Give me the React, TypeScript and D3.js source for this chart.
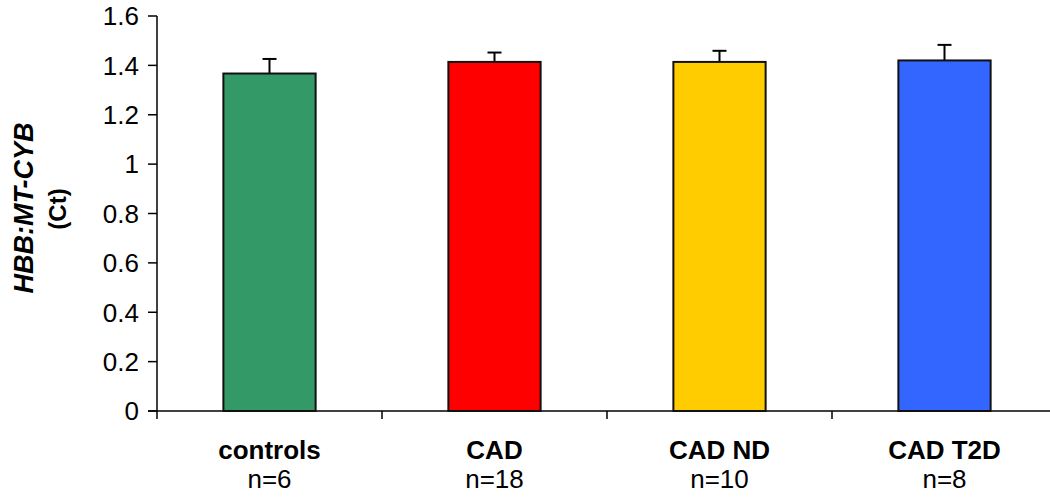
import React from "react";
import * as d3 from "d3";

const categories = ["controls", "CAD", "CAD ND", "CAD T2D"];
const nLabels = ["n=6", "n=18", "n=10", "n=8"];
const means = [1.367, 1.414, 1.414, 1.42];
const errors = [0.059, 0.038, 0.045, 0.063];
const colors = ["#339966", "#FF0000", "#FFCC00", "#3366FF"];
const yTicks = [0, 0.2, 0.4, 0.6, 0.8, 1, 1.2, 1.4, 1.6];

const W = 1050;
const H = 497;
const FONT = "Arial, 'Liberation Sans', sans-serif";

export default function App() {
  const x0 = 157;
  const step = 225;
  const x = d3
    .scaleBand<string>()
    .domain(categories)
    .range([x0, x0 + step * categories.length])
    .padding(0);
  const y = d3.scaleLinear().domain([0, 1.6]).range([411, 16]);
  const bw = x.bandwidth() * 0.41;
  const y0 = y(0);

  return (
    <svg
      width={W}
      height={H}
      style={{ position: "absolute", left: 0, top: 0, background: "#fff" }}
      fontFamily={FONT}
    >
      {/* y axis */}
      <line x1={x0} x2={x0} y1={y(1.6)} y2={y0 + 8} stroke="#000" strokeWidth={1.5} />
      {yTicks.map((t) => (
        <g key={t}>
          <line x1={x0 - 9} x2={x0} y1={y(t)} y2={y(t)} stroke="#000" strokeWidth={1.5} />
          <text
            x={x0 - 18}
            y={y(t)}
            dy="0.36em"
            textAnchor="end"
            fontSize={26}
            fill="#000"
          >
            {d3.format("~g")(t)}
          </text>
        </g>
      ))}
      {/* x axis */}
      <line x1={x0 - 9} x2={W} y1={y0} y2={y0} stroke="#000" strokeWidth={1.5} />
      {categories.slice(1).map((c) => (
        <line
          key={c}
          x1={x(c)!}
          x2={x(c)!}
          y1={y0}
          y2={y0 + 8}
          stroke="#000"
          strokeWidth={1.5}
        />
      ))}
      {/* bars */}
      {categories.map((c, i) => {
        const cx = x(c)! + x.bandwidth() / 2;
        const top = y(means[i]);
        const et = y(means[i] + errors[i]);
        return (
          <g key={c}>
            <line x1={cx} x2={cx} y1={top} y2={et} stroke="#000" strokeWidth={2} />
            <line x1={cx - 7} x2={cx + 7} y1={et} y2={et} stroke="#000" strokeWidth={2} />
            <rect
              x={cx - bw / 2}
              y={top}
              width={bw}
              height={y0 - top}
              fill={colors[i]}
              stroke="#111"
              strokeWidth={2}
            />
            <text
              x={cx}
              y={459}
              textAnchor="middle"
              fontSize={26}
              fontWeight="bold"
              fill="#000"
            >
              {c}
            </text>
            <text x={cx} y={488} textAnchor="middle" fontSize={26} fill="#000">
              {nLabels[i]}
            </text>
          </g>
        );
      })}
      {/* y label */}
      <g transform="translate(33,208) rotate(-90)">
        <text textAnchor="middle" fontSize={27} fontWeight="bold" fontStyle="italic" fill="#000">
          HBB:MT-CYB
        </text>
      </g>
      <g transform="translate(66,209) rotate(-90)">
        <text textAnchor="middle" fontSize={24} fontWeight="bold" fill="#000">
          (Ct)
        </text>
      </g>
    </svg>
  );
}
